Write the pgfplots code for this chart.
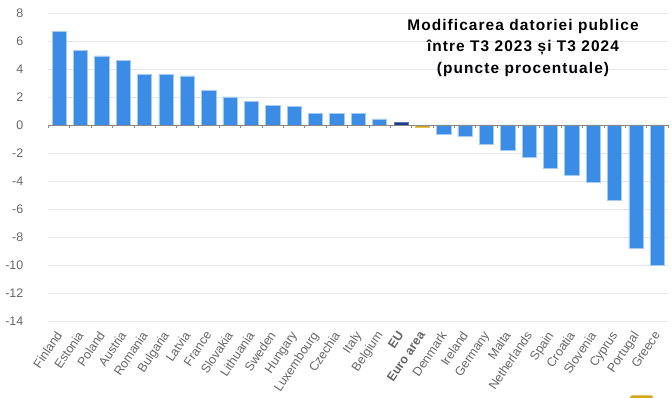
\documentclass[border=0pt]{standalone}
\usepackage{pgfplots}
\pgfplotsset{compat=1.18}
\usepackage{fontspec}
\setmainfont{Liberation Sans}
\newfontfamily\titlefont[LetterSpace=7]{Liberation Sans}
\definecolor{barblue}{HTML}{3A8CE4}
\definecolor{baredge}{HTML}{A6CBF3}
\definecolor{eunavy}{HTML}{1B3A8A}
\definecolor{eagold}{HTML}{D4A516}
\definecolor{gridc}{HTML}{E3E6EE}
\definecolor{tickc}{HTML}{666666}
\definecolor{axc}{HTML}{8A8A8A}
\begin{document}
\begin{tikzpicture}
\useasboundingbox (0,0) rectangle (672bp,398bp);
\begin{axis}[
  at={(48.5bp,77bp)}, anchor=south west,
  scale only axis, width=619.5bp, height=308bp,
  xmin=-0.5, xmax=28.5, ymin=-14, ymax=8,
  ytick={-14,-12,...,8},
  xtick={0,...,28},
  xticklabels={Finland,Estonia,Poland,Austria,Romania,Bulgaria,Latvia,France,Slovakia,Lithuania,Sweden,Hungary,Luxembourg,Czechia,Italy,Belgium,\textbf{EU},\textbf{Euro area},Denmark,Ireland,Germany,Malta,Netherlands,Spain,Croatia,Slovenia,Cyprus,Portugal,Greece},
  axis line style={draw=none},
  major tick style={draw=none},
  ymajorgrids, grid style={gridc, line width=0.8pt},
  tick label style={tickc, font=\fontsize{12.5}{14}\selectfont},
  /pgf/number format/assume math mode=true,
  yticklabel style={anchor=east, inner sep=0pt, xshift=-25bp},
  xticklabel style={xshift=-4bp, yshift=-9bp, rotate=56, anchor=north east, inner sep=0pt},
  clip=false,
]
\addplot[ybar, bar width=14.3bp, bar shift=0pt, fill=barblue, draw=baredge, line width=0.6pt] coordinates {
(0,6.7) (1,5.35) (2,4.93) (3,4.6) (4,3.6) (5,3.6) (6,3.5) (7,2.45) (8,2.0) (9,1.7) (10,1.4) (11,1.3) (12,0.8) (13,0.8) (14,0.8) (15,0.43)
(18,-0.68) (19,-0.79) (20,-1.38) (21,-1.79) (22,-2.29) (23,-3.1) (24,-3.6) (25,-4.1) (26,-5.38) (27,-8.81) (28,-10.03)};
\addplot[ybar, bar width=14.3bp, bar shift=0pt, fill=eunavy, draw=eunavy!70!white, line width=0.6pt] coordinates {(16,0.22)};
\addplot[ybar, bar width=14.3bp, bar shift=0pt, fill=eagold, draw=eagold!70!white, line width=0.6pt] coordinates {(17,-0.15)};
\draw[axc, line width=1pt] (axis cs:-0.5,0) -- (axis cs:28.5,0);
\pgfplotsinvokeforeach{-0.5,0.5,...,28.5}{\draw[axc, line width=0.8pt] (axis cs:#1,0) -- (axis cs:#1,-0.25);}
\end{axis}
\node[font=\titlefont\bfseries\fontsize{15.5}{21.5}\selectfont, align=center] at (523bp,350bp) {Modificarea datoriei publice\\între T3 2023 și T3 2024\\(puncte procentuale)};
\fill[eagold, rounded corners=1.5bp] (630bp,-3bp) rectangle (653bp,2.5bp);
\end{tikzpicture}
\end{document}
